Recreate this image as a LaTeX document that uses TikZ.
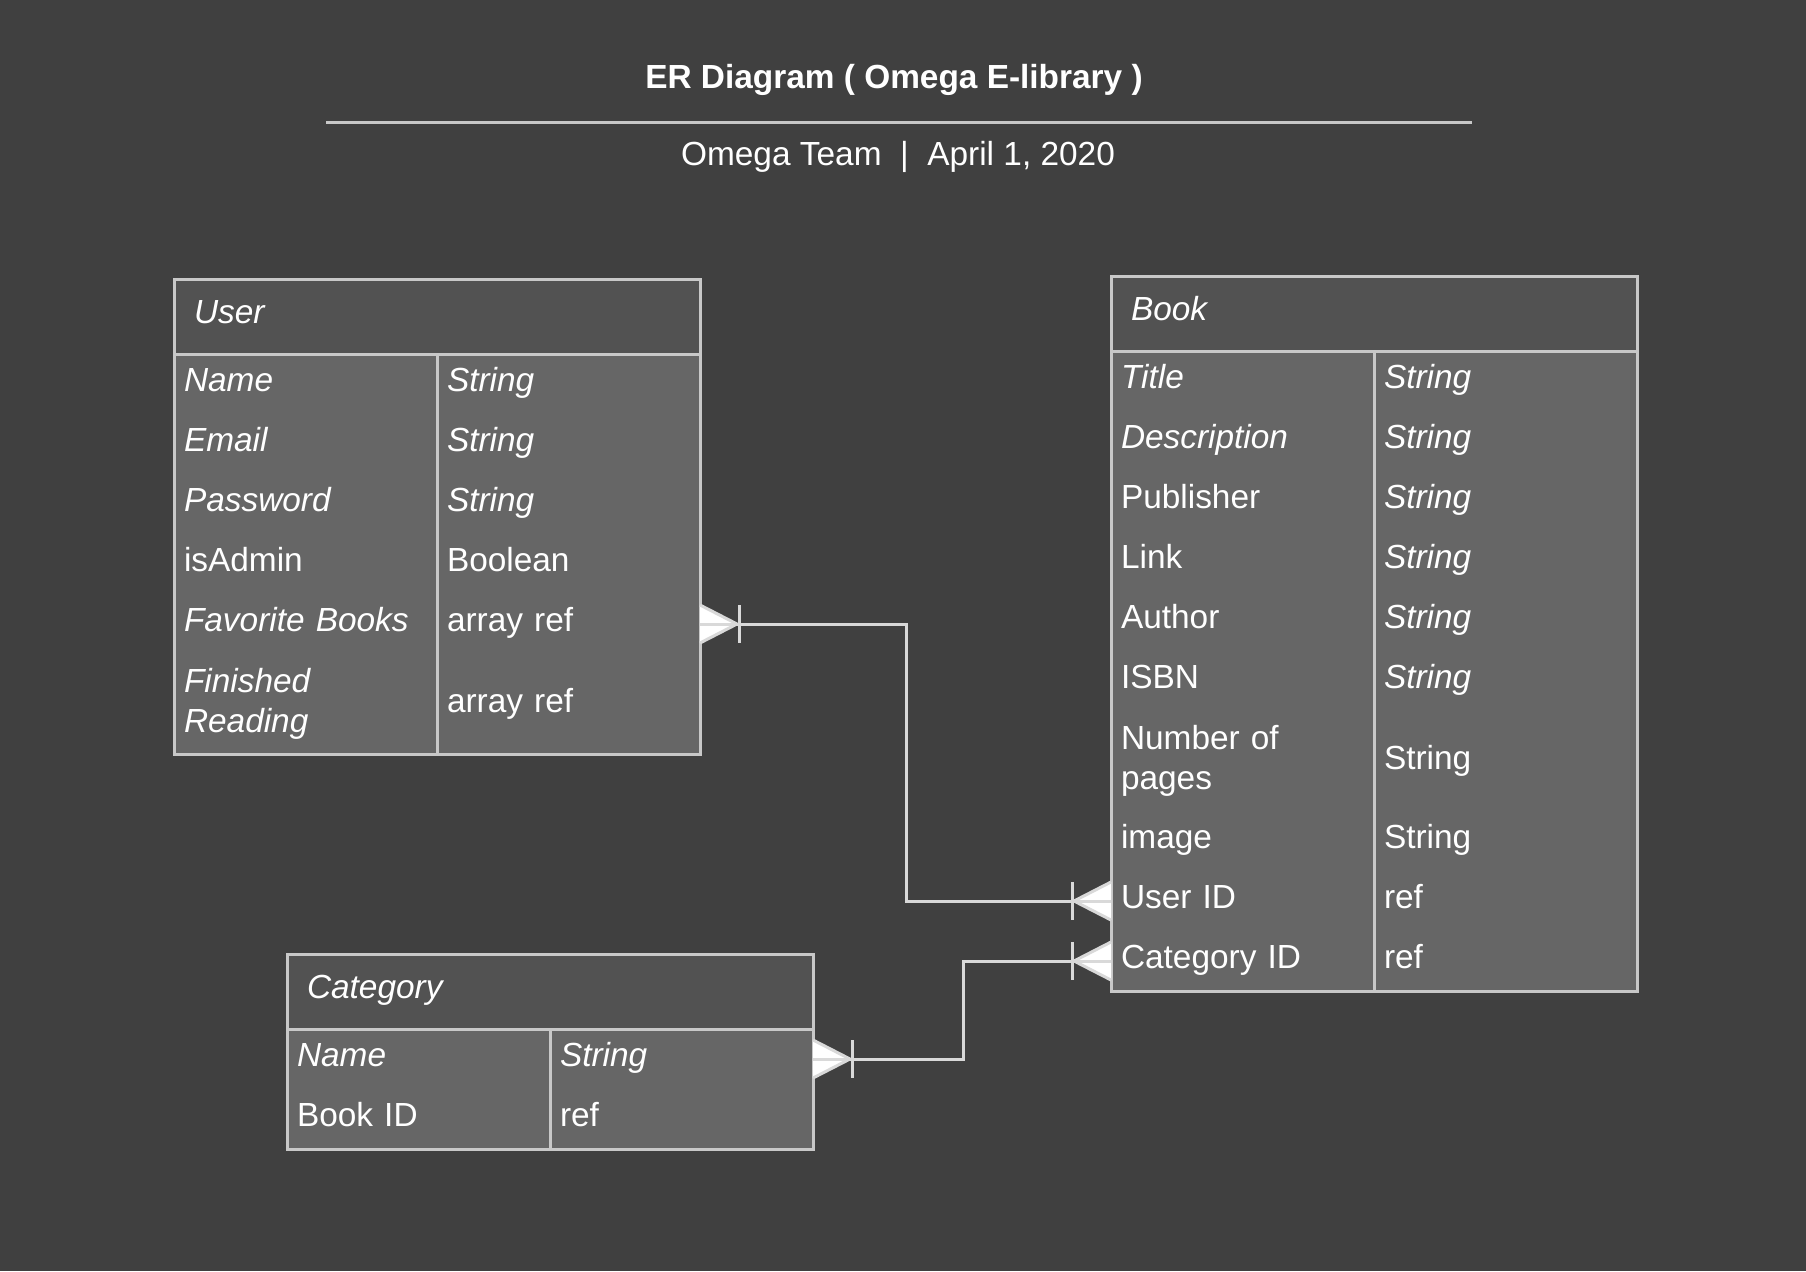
\documentclass[tikz,border=0pt]{standalone}
\usepackage{fontspec}
\setmainfont{Liberation Sans}
\usetikzlibrary{positioning, calc}
\definecolor{bgdark}{HTML}{404040}
\definecolor{headfill}{HTML}{525252}
\definecolor{rowfill}{HTML}{666666}
\definecolor{edge}{HTML}{C8C8C8}
\definecolor{wire}{HTML}{D9D9D9}

\tikzset{
	onemany/.pic={
		\filldraw [draw=wire, fill=white, line width=3pt, line join=round] (0,-19) -- (37,0) -- (0,19);
		\draw [wire, line width=3pt] (0,0) -- (37,0);
		\draw [wire, line width=3pt] (39,-19) -- (39,19);
	}
}

\begin{document}
\begin{tikzpicture}[x=1pt, y=-1pt,
		every node/.style={font=\fontsize{33.4}{40}\selectfont, text=white, inner sep=0pt, outer sep=0pt},
		head/.style={fill=headfill, minimum width=526pt, minimum height=75pt, text width=486pt, align=left, anchor=north west, text height=23pt, text depth=9pt},
		cell/.style={fill=rowfill, draw=rowfill, line width=1pt, minimum width=263pt, minimum height=60pt, text width=243pt, align=left, text height=23pt, text depth=9pt},
		tall/.style={cell, minimum height=100pt, text height={}, text depth={}},
		border/.style={draw=edge, line width=3pt},
		link/.style={draw=wire, line width=3pt}]
	\fill [bgdark] (0,0) rectangle (1806,1271);
	\coordinate (U) at (174,279);
	\coordinate (B) at (1111,276);
	\coordinate (C) at (287,954);
	\coordinate (R1) at (326,123);
	\coordinate (R2) at (1472,123);

	\node [anchor=base, font=\fontsize{33.4}{40}\selectfont\bfseries] (title) at (894,89) {ER Diagram ( Omega E-library )};
	\draw [draw=edge, line width=3pt] (R1) -- (R2);
	\node [anchor=base] (team) at (898,165) {Omega Team~~|~~April 1, 2020};

	\node [head] (u-head) at (U) {\textit{User}};
	\node [cell, below right=0pt and 0pt of u-head.south west] (u-name) {\textit{Name}};
	\node [cell, right=0pt of u-name] (u-name-t) {\textit{String}};
	\node [cell, below=0pt of u-name] (u-mail) {\textit{Email}};
	\node [cell, right=0pt of u-mail] (u-mail-t) {\textit{String}};
	\node [cell, below=0pt of u-mail] (u-pass) {\textit{Password}};
	\node [cell, right=0pt of u-pass] (u-pass-t) {\textit{String}};
	\node [cell, below=0pt of u-pass] (u-admin) {isAdmin};
	\node [cell, right=0pt of u-admin] (u-admin-t) {Boolean};
	\node [cell, below=0pt of u-admin] (u-fav) {\textit{Favorite Books}};
	\node [cell, right=0pt of u-fav] (u-fav-t) {array ref};
	\node [tall, below=0pt of u-fav] (u-read) {\textit{Finished}\\\textit{Reading}};
	\node [tall, right=0pt of u-read] (u-read-t) {array ref};
	\draw [border] (u-head.north west) rectangle (u-read-t.south east);
	\draw [border] (u-head.south west) -- (u-head.south east);
	\draw [border] (u-name-t.north west) -- (u-read-t.south west);

	\node [head] (b-head) at (B) {\textit{Book}};
	\node [cell, below right=0pt and 0pt of b-head.south west] (b-title) {\textit{Title}};
	\node [cell, right=0pt of b-title] (b-title-t) {\textit{String}};
	\node [cell, below=0pt of b-title] (b-desc) {\textit{Description}};
	\node [cell, right=0pt of b-desc] (b-desc-t) {\textit{String}};
	\node [cell, below=0pt of b-desc] (b-pub) {Publisher};
	\node [cell, right=0pt of b-pub] (b-pub-t) {\textit{String}};
	\node [cell, below=0pt of b-pub] (b-link) {Link};
	\node [cell, right=0pt of b-link] (b-link-t) {\textit{String}};
	\node [cell, below=0pt of b-link] (b-auth) {Author};
	\node [cell, right=0pt of b-auth] (b-auth-t) {\textit{String}};
	\node [cell, below=0pt of b-auth] (b-isbn) {ISBN};
	\node [cell, right=0pt of b-isbn] (b-isbn-t) {\textit{String}};
	\node [tall, below=0pt of b-isbn] (b-pages) {Number of\\pages};
	\node [tall, right=0pt of b-pages] (b-pages-t) {String};
	\node [cell, below=0pt of b-pages] (b-img) {image};
	\node [cell, right=0pt of b-img] (b-img-t) {String};
	\node [cell, below=0pt of b-img] (b-uid) {User ID};
	\node [cell, right=0pt of b-uid] (b-uid-t) {ref};
	\node [cell, below=0pt of b-uid] (b-cid) {Category ID};
	\node [cell, right=0pt of b-cid] (b-cid-t) {ref};
	\draw [border] (b-head.north west) rectangle (b-cid-t.south east);
	\draw [border] (b-head.south west) -- (b-head.south east);
	\draw [border] (b-title-t.north west) -- (b-cid-t.south west);

	\node [head] (c-head) at (C) {\textit{Category}};
	\node [cell, below right=0pt and 0pt of c-head.south west] (c-name) {\textit{Name}};
	\node [cell, right=0pt of c-name] (c-name-t) {\textit{String}};
	\node [cell, below=0pt of c-name] (c-book) {Book ID};
	\node [cell, right=0pt of c-book] (c-book-t) {ref};
	\draw [border] (c-head.north west) rectangle (c-book-t.south east);
	\draw [border] (c-head.south west) -- (c-head.south east);
	\draw [border] (c-name-t.north west) -- (c-book-t.south west);

	\draw [link] (u-fav-t.east) -- ++(206,0) |- (b-uid.west);
	\draw [link] (c-name-t.east) -- ++(150,0) |- (b-cid.west);
	\pic at (u-fav-t.east) {onemany};
	\pic at (c-name-t.east) {onemany};
	\pic [xscale=-1] at (b-uid.west) {onemany};
	\pic [xscale=-1] at (b-cid.west) {onemany};
\end{tikzpicture}
\end{document}
